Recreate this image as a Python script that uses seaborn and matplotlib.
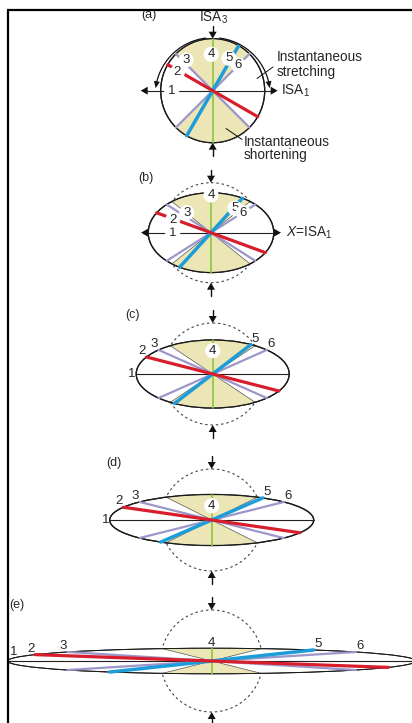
import numpy as np
import pandas as pd
import matplotlib
matplotlib.use("Agg")
import matplotlib.pyplot as plt
from matplotlib.patches import Ellipse, Circle, Polygon
import seaborn as sns

# ---------------- data ----------------
panel_tags = ["(a)", "(b)", "(c)", "(d)", "(e)"]
stretch_k = [1.0, 1.255, 1.5, 2.0, 4.0]            # pure-shear stretch along ISA1
line_ids = ["1", "2", "3", "4", "5", "6"]
line_angles_deg = [180, 150, 135, 90, 60, 45]      # initial orientation of material lines
line_colors = ["#231f20", "#d81e2c", "#9c96ca", "#8dc63f", "#1d9dd8", "#9c96ca"]
shade_color = "#ece5b6"

# ---------------- layout (pixel coordinates) ----------------
W, H = 412, 723
cx = [212.7, 211.0, 212.7, 211.7, 211.7]
cy = [90.7, 232.7, 374.0, 520.0, 661.0]
R = [52.0, 50.0, 51.0, 51.0, 51.0]
line_w = [0.8, 2.3, 1.6, 1.2, 2.5, 1.6]
line_z = [4, 7, 5, 4.5, 6, 5]
axis_ext = {0: (-72, 65), 1: (-70, 70)}   # horizontal ISA1 arrows in (a), (b)

sns.set_theme(style="white")
plt.rcParams['font.family'] = ['Liberation Sans', 'DejaVu Sans']
plt.rcParams['mathtext.fontset'] = 'custom'
plt.rcParams['mathtext.rm'] = 'Liberation Sans'
plt.rcParams['mathtext.it'] = 'Liberation Sans:italic'

fig = plt.figure(figsize=(W / 100, H / 100), dpi=100)
ax = fig.add_axes([0, 0, 1, 1])
ax.set_xlim(0, W)
ax.set_ylim(H, 0)
ax.axis("off")


def end_point(i, j):
    k = stretch_k[i]
    a = np.deg2rad(line_angles_deg[j])
    return R[i] * k * np.cos(a), -R[i] * np.sin(a) / k


def arrowhead(tip, direction, L=7.0, Wd=8.0, z=9):
    d = np.asarray(direction, float)
    d = d / np.hypot(*d)
    n = np.array([-d[1], d[0]])
    tip = np.asarray(tip, float)
    base = tip - d * L
    ax.add_patch(Polygon([tip, base + n * Wd / 2, base - n * Wd / 2], closed=True,
                         fc="#111111", ec="none", zorder=z))


# ---- build line table ----
rows = []
for i in range(len(panel_tags)):
    for j in range(len(line_ids)):
        ex, ey = end_point(i, j)
        if j == 0 and i in axis_ext:
            x0, x1 = cx[i] + axis_ext[i][0] + 5, cx[i] + axis_ext[i][1] - 5
            rows.append((i, j, 0, x0, cy[i]))
            rows.append((i, j, 1, x1, cy[i]))
        else:
            rows.append((i, j, 0, cx[i] - ex, cy[i] - ey))
            rows.append((i, j, 1, cx[i] + ex, cy[i] + ey))
lines_df = pd.DataFrame(rows, columns=["panel", "line", "pt", "x", "y"])

# ---- frame ----
ax.plot([7, W], [10, 10], color="black", lw=1.6, solid_capstyle="butt", zorder=20)
ax.plot([8, 8], [9.5, H], color="black", lw=1.6, solid_capstyle="butt", zorder=20)

for i, tag in enumerate(panel_tags):
    k = stretch_k[i]
    x0, y0, r = cx[i], cy[i], R[i]
    # dashed reference circle
    if i > 0:
        ax.add_patch(Circle((x0, y0), r, fill=False, ec="#444444", lw=0.8,
                            ls=(0, (2.2, 2.6)), zorder=1))
    # strain ellipse
    ax.add_patch(Ellipse((x0, y0), 2 * r * k, 2 * r / k, fc="white", ec="#1a1a1a",
                         lw=0.9 if i < 4 else 0.7, zorder=2))
    # shortening field
    phi0 = np.arctan(k)
    for sgn in (1, -1):
        ph = np.linspace(phi0, np.pi - phi0, 80)
        px = x0 + r * k * np.cos(ph)
        py = y0 - sgn * r * np.sin(ph) / k
        pts = np.vstack([[x0, y0], np.column_stack([px, py])])
        ax.add_patch(Polygon(pts, closed=True, fc=shade_color, ec="#555555",
                             lw=0.5, zorder=3))
    ax.add_patch(Ellipse((x0, y0), 2 * r * k, 2 * r / k, fill=False, ec="#1a1a1a",
                         lw=0.9 if i < 4 else 0.7, zorder=3.5))
    # material lines
    for j in range(len(line_ids)):
        sub = lines_df[(lines_df.panel == i) & (lines_df.line == j)]
        sns.lineplot(data=sub, x="x", y="y", color=line_colors[j], lw=line_w[j],
                     sort=False, estimator=None, legend=False, ax=ax,
                     zorder=line_z[j])
    # horizontal arrows (a), (b)
    if i in axis_ext:
        arrowhead((x0 + axis_ext[i][0], y0), (-1, 0))
        arrowhead((x0 + axis_ext[i][1], y0), (1, 0))
    # vertical arrows
    for sgn in (-1, 1):
        tip = y0 + sgn * r
        ax.plot([x0, x0], [tip + sgn * 13, tip + sgn * 5], color="#111111", lw=1.0, zorder=9)
        arrowhead((x0, tip), (0, -sgn))
    # panel tag
    tag_pos = [(149, 15), (145.5, 178.3), (132.5, 315), (114.3, 463.3), (17, 605)][i]
    ax.text(*tag_pos, tag, fontsize=9, ha="center", va="center", zorder=12)

# ---- number labels ----
box = dict(boxstyle="circle,pad=0.12", fc="white", ec="none")
inner_offsets = {
    0: {"1": (-41, 0), "2": (-35.4, -18.4), "3": (-26.7, -30.7), "4": (-1.5, -36.4),
        "5": (16.3, -32.4), "6": (25.6, -25.7)},
    1: {"1": (-38.3, 0), "2": (-38.3, -12.7), "3": (-24.3, -20), "4": (0, -37.7),
        "5": (24, -24.4), "6": (32.3, -20)},
}
four_dy = {2: -23.3, 3: -14.3, 4: -18.5}
for i in range(len(panel_tags)):
    for j, lid in enumerate(line_ids):
        if i in inner_offsets:
            dx, dy = inner_offsets[i][lid]
            ax.text(cx[i] + dx, cy[i] + dy, lid, fontsize=9.5, ha="center", va="center",
                    bbox=box, zorder=12)
            continue
        ex, ey = end_point(i, j)
        if lid == "4":
            ax.text(cx[i], cy[i] + four_dy[i], lid, fontsize=9.5, ha="center", va="center",
                    bbox=box if i < 4 else None, zorder=12)
        elif lid == "1":
            if i < 4:
                ax.text(cx[i] + ex - 4, cy[i], lid, fontsize=9.5, ha="center", va="center",
                        zorder=12)
            else:
                ax.text(cx[i] + ex + 6, cy[i] - 9, lid, fontsize=9.5, ha="center",
                        va="center", zorder=12)
        else:
            sx = np.sign(-ex) if ey > 0 else np.sign(ex)
            xe, ye = (cx[i] - ex, cy[i] - ey) if ey > 0 else (cx[i] + ex, cy[i] + ey)
            ax.text(xe + 4 * np.sign(xe - cx[i]), ye - 6, lid, fontsize=9.5,
                    ha="center", va="center", zorder=12)

# ---- annotations in (a) ----
x0, y0 = cx[0], cy[0]
ac_x, ac_y, ar = x0, y0 + 4.5, 57.5
for a0, a1 in ((97, 166), (83, 14)):
    t = np.deg2rad(np.linspace(a0, a1, 60))
    ax.plot(ac_x + ar * np.cos(t), ac_y - ar * np.sin(t), color="#111111", lw=0.9, zorder=8)
    te = np.deg2rad(a1 + (7 if a1 > 90 else -7))
    tip = (ac_x + ar * np.cos(te), ac_y - ar * np.sin(te))
    prev = (ac_x + ar * np.cos(np.deg2rad(a1)), ac_y - ar * np.sin(np.deg2rad(a1)))
    arrowhead(tip, (tip[0] - prev[0], tip[1] - prev[1]), L=7, Wd=6)

ax.text(213.3, 18.3, r"ISA$_3$", fontsize=9.8, ha="center", va="center")
ax.text(281, y0, r"ISA$_1$", fontsize=9.8, ha="left", va="center")
ax.text(cx[1] + 75, cy[1], r"$X$=ISA$_1$", fontsize=9.8, ha="left", va="center")
ax.text(277, 57.3, "Instantaneous", fontsize=9.8, ha="left", va="center")
ax.text(277, 71.7, "stretching", fontsize=9.8, ha="left", va="center")
ax.text(244, 141.7, "Instantaneous", fontsize=9.8, ha="left", va="center")
ax.text(244, 155, "shortening", fontsize=9.8, ha="left", va="center")
ax.plot([273, 257], [67, 78.5], color="#111111", lw=0.7, zorder=9)
ax.plot([242, 226], [139.5, 128.5], color="#111111", lw=0.7, zorder=9)

fig.savefig("out.png", dpi=100)
